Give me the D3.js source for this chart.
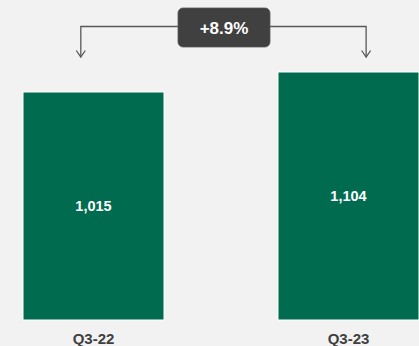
<!DOCTYPE html>
<html>
<head>
<meta charset="utf-8">
<script src="https://cdn.jsdelivr.net/npm/d3@7"></script>
<style>
  html, body { margin: 0; padding: 0; background: #f2f2f2; }
  svg { display: block; }
</style>
</head>
<body>
<script>
// Quarterly totals
const categories = ["Q3-22", "Q3-23"];
const values = [1015, 1104];
const valueLabels = ["1,015", "1,104"];
const changeLabel = "+8.9%";

const W = 419, H = 346;
const svg = d3.select("body").append("svg")
  .attr("width", W).attr("height", H);

svg.append("rect").attr("width", W).attr("height", H).attr("fill", "#f2f2f2");

const x = d3.scaleBand()
  .domain(categories)
  .range([23, 419])
  .paddingInner(0.447)
  .paddingOuter(0);

const y = d3.scaleLinear()
  .domain([0, 1104])
  .range([320, 72]);

const font = "Arial, 'Liberation Sans', sans-serif";

// Bars
svg.selectAll("rect.bar")
  .data(values)
  .enter().append("rect")
  .attr("class", "bar")
  .attr("x", (d, i) => x(categories[i]))
  .attr("y", d => y(d))
  .attr("width", x.bandwidth())
  .attr("height", d => y(0) - y(d))
  .attr("fill", "#006b4f")
  .attr("stroke", "#ffffff")
  .attr("stroke-width", 1);

// Value labels centred inside each bar
svg.selectAll("text.val")
  .data(values)
  .enter().append("text")
  .attr("class", "val")
  .attr("x", (d, i) => x(categories[i]) + x.bandwidth() / 2)
  .attr("y", d => (y(d) + y(0)) / 2)
  .attr("dy", "0.36em")
  .attr("text-anchor", "middle")
  .attr("font-family", font)
  .attr("font-weight", "bold")
  .attr("font-size", 14.5)
  .attr("fill", "#ffffff")
  .text((d, i) => valueLabels[i]);

// Category axis labels
const xAxis = svg.append("g")
  .attr("transform", `translate(0,${y(0)})`)
  .call(d3.axisBottom(x).tickSize(0).tickPadding(13.5));
xAxis.select(".domain").remove();
xAxis.selectAll("text")
  .attr("font-family", font)
  .attr("font-weight", "bold")
  .attr("font-size", 15)
  .attr("fill", "#404040");

// Growth annotation: connector with arrows pointing down to each bar
const boxW = 92, boxH = 39, boxCx = 224, boxY = 8;
const lineY = 26.5, tipY = 57;
const leftX = x(categories[0]) + x.bandwidth() * 0.41;
const rightX = x(categories[1]) + x.bandwidth() * 0.625;

const conn = svg.append("g")
  .attr("fill", "none")
  .attr("stroke", "#595959")
  .attr("stroke-width", 1.3);

conn.append("path")
  .attr("d", `M${boxCx},${lineY} H${leftX} V${tipY}`);
conn.append("path")
  .attr("d", `M${boxCx},${lineY} H${rightX} V${tipY}`);

[leftX, rightX].forEach(ax => {
  conn.append("path")
    .attr("d", `M${ax - 4.5},${tipY - 6.5} L${ax},${tipY} L${ax + 4.5},${tipY - 6.5}`);
});

svg.append("rect")
  .attr("x", boxCx - boxW / 2)
  .attr("y", boxY)
  .attr("width", boxW)
  .attr("height", boxH)
  .attr("rx", 5)
  .attr("fill", "#404040")
  .attr("stroke", "#595959")
  .attr("stroke-width", 0.8);

svg.append("text")
  .attr("x", boxCx)
  .attr("y", boxY + boxH / 2)
  .attr("dy", "0.36em")
  .attr("text-anchor", "middle")
  .attr("font-family", font)
  .attr("font-weight", "bold")
  .attr("font-size", 17)
  .attr("fill", "#ffffff")
  .text(changeLabel);
</script>
</body>
</html>
